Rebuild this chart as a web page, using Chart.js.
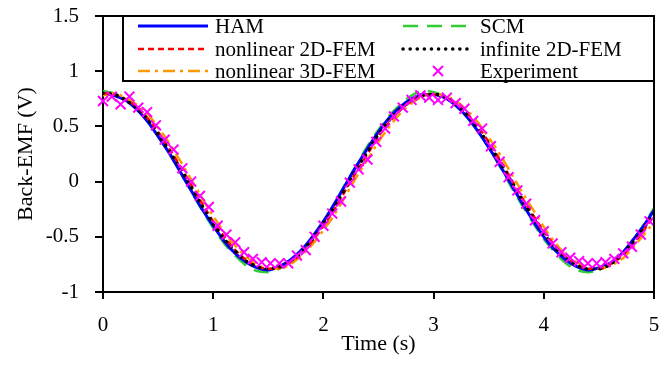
<!DOCTYPE html>
<html>
<head>
<meta charset="utf-8">
<script src="https://cdn.jsdelivr.net/npm/chart.js@4/dist/chart.umd.min.js"></script>
<style>
  html, body { margin: 0; padding: 0; background: #fff; }
  #chart { display: block; }
</style>
</head>
<body>
<canvas id="chart" width="672" height="367"></canvas>
<script>
// ==========================================
// 1. DATA
// ==========================================
const times = [0, 0.1, 0.2, 0.3, 0.4, 0.5, 0.6, 0.7, 0.8, 0.9, 1, 1.1, 1.2, 1.3, 1.4, 1.5, 1.6, 1.7, 1.8, 1.9,
    2, 2.1, 2.2, 2.3, 2.4, 2.5, 2.6, 2.7, 2.8, 2.9, 3, 3.1, 3.2, 3.3, 3.4, 3.5, 3.6, 3.7, 3.8, 3.9,
    4, 4.1, 4.2, 4.3, 4.4, 4.5, 4.6, 4.7, 4.8, 4.9, 5];

const hamValues = [0.80, 0.78, 0.74, 0.66, 0.55, 0.41, 0.26, 0.09, -0.08, -0.25, -0.40, -0.54, -0.65, -0.73, -0.78, -0.80, -0.77, -0.71, -0.62, -0.50,
    -0.36, -0.20, -0.03, 0.14, 0.30, 0.45, 0.58, 0.68, 0.75, 0.79, 0.79, 0.76, 0.69, 0.59, 0.46, 0.31, 0.15, -0.02, -0.19, -0.35,
    -0.50, -0.62, -0.71, -0.77, -0.80, -0.78, -0.74, -0.66, -0.54, -0.41, -0.26];

const scmValues = [0.82, 0.80, 0.75, 0.67, 0.56, 0.42, 0.26, 0.09, -0.09, -0.26, -0.42, -0.56, -0.67, -0.76, -0.81, -0.82, -0.79, -0.73, -0.63, -0.51,
    -0.37, -0.20, -0.02, 0.15, 0.32, 0.47, 0.60, 0.70, 0.78, 0.82, 0.81, 0.77, 0.70, 0.59, 0.46, 0.31, 0.14, -0.04, -0.21, -0.37,
    -0.52, -0.64, -0.74, -0.80, -0.82, -0.80, -0.75, -0.66, -0.54, -0.40, -0.24];

const fem2dValues = [0.80, 0.79, 0.75, 0.68, 0.58, 0.45, 0.30, 0.14, -0.03, -0.20, -0.36, -0.50, -0.62, -0.71, -0.77, -0.79, -0.78, -0.73, -0.65, -0.54,
    -0.40, -0.25, -0.08, 0.09, 0.25, 0.41, 0.54, 0.65, 0.73, 0.78, 0.79, 0.77, 0.71, 0.62, 0.50, 0.36, 0.20, 0.03, -0.14, -0.30,
    -0.45, -0.58, -0.68, -0.75, -0.79, -0.79, -0.75, -0.68, -0.58, -0.45, -0.31];

const infValues = [0.80, 0.79, 0.74, 0.67, 0.57, 0.43, 0.28, 0.12, -0.05, -0.22, -0.38, -0.52, -0.63, -0.72, -0.77, -0.79, -0.77, -0.72, -0.64, -0.52,
    -0.38, -0.23, -0.06, 0.11, 0.27, 0.43, 0.56, 0.66, 0.74, 0.78, 0.79, 0.77, 0.70, 0.61, 0.48, 0.34, 0.18, 0.01, -0.16, -0.32,
    -0.47, -0.60, -0.69, -0.76, -0.79, -0.79, -0.75, -0.67, -0.56, -0.43, -0.29];

const fem3dValues = [0.78, 0.80, 0.76, 0.70, 0.62, 0.49, 0.35, 0.19, 0.02, -0.15, -0.31, -0.46, -0.58, -0.68, -0.75, -0.79, -0.79, -0.75, -0.67, -0.57,
    -0.44, -0.30, -0.13, 0.04, 0.20, 0.36, 0.50, 0.62, 0.71, 0.77, 0.79, 0.78, 0.73, 0.65, 0.54, 0.40, 0.25, 0.08, -0.09, -0.25,
    -0.41, -0.55, -0.66, -0.73, -0.78, -0.79, -0.76, -0.71, -0.61, -0.49, -0.37];

const expTimes = [0, 0.08, 0.16, 0.24, 0.32, 0.4, 0.48, 0.56, 0.64, 0.72, 0.8, 0.88, 0.96, 1.04, 1.12, 1.2, 1.28, 1.36, 1.44, 1.52,
    1.6, 1.68, 1.76, 1.84, 1.92, 2, 2.08, 2.16, 2.24, 2.32, 2.4, 2.48, 2.56, 2.64, 2.72, 2.8, 2.88, 2.96, 3.04, 3.12,
    3.2, 3.28, 3.36, 3.44, 3.52, 3.6, 3.68, 3.76, 3.84, 3.92, 4, 4.08, 4.16, 4.24, 4.32, 4.4, 4.48, 4.56, 4.64, 4.72,
    4.8, 4.88, 4.96];

const expValues = [0.73, 0.77, 0.70, 0.77, 0.67, 0.63, 0.51, 0.38, 0.29, 0.12, 0.00, -0.13, -0.23, -0.40, -0.48, -0.55, -0.64, -0.70, -0.73, -0.74,
    -0.74, -0.74, -0.67, -0.62, -0.50, -0.40, -0.29, -0.18, -0.01, 0.11, 0.20, 0.36, 0.48, 0.59, 0.67, 0.74, 0.78, 0.76, 0.74, 0.76,
    0.71, 0.66, 0.55, 0.48, 0.32, 0.18, 0.04, -0.08, -0.20, -0.35, -0.45, -0.56, -0.64, -0.69, -0.72, -0.74, -0.74, -0.73, -0.70, -0.65,
    -0.59, -0.48, -0.36];

const xTicks = [0, 1, 2, 3, 4, 5];
const yTicks = [-1, -0.5, 0, 0.5, 1, 1.5];

const FONT = '"Liberation Serif", "Times New Roman", serif';

// helper: pair up x / y arrays into {x, y} points
const toPoints = (xs, ys) => xs.map((x, i) => ({ x: x, y: ys[i] }));

// ==========================================
// 2. PLUGINS (white bg, frame, boxed legend)
// ==========================================
const whiteBg = {
    id: 'whiteBg',
    beforeDraw(chart) {
        const c = chart.ctx;
        c.save();
        c.fillStyle = '#fff';
        c.fillRect(0, 0, chart.width, chart.height);
        c.restore();
    }
};

const frame = {
    id: 'frame',
    afterDraw(chart) {
        const a = chart.chartArea;
        const c = chart.ctx;
        c.save();
        c.strokeStyle = '#000';
        c.lineWidth = 2;
        c.beginPath();
        c.moveTo(a.left - 1, a.top);
        c.lineTo(a.right, a.top);
        c.lineTo(a.right, a.bottom + 1);
        c.stroke();
        c.restore();
    }
};

// legend laid out like the reference: 2 columns x 3 rows inside a box
const legendLayout = [
    { idx: 0, col: 0, row: 0 }, { idx: 1, col: 1, row: 0 },
    { idx: 2, col: 0, row: 1 }, { idx: 3, col: 1, row: 1 },
    { idx: 4, col: 0, row: 2 }, { idx: 5, col: 1, row: 2 }
];
const boxedLegend = {
    id: 'boxedLegend',
    afterDraw(chart) {
        const a = chart.chartArea;
        const c = chart.ctx;
        const boxL = 123, boxB = 81;
        c.save();
        c.fillStyle = '#fff';
        c.fillRect(boxL, a.top, a.right - boxL, boxB - a.top);
        c.strokeStyle = '#000';
        c.lineWidth = 2;
        c.strokeRect(boxL, a.top, a.right - boxL, boxB - a.top);

        const colX = [138, 403];
        const rowY = [26, 49, 71];
        c.font = '21px ' + FONT;
        c.textBaseline = 'middle';
        c.textAlign = 'left';
        legendLayout.forEach(item => {
            const ds = chart.data.datasets[item.idx];
            const x0 = colX[item.col], y = rowY[item.row];
            c.save();
            if (ds.showLine === false) {
                // cross marker
                const cx = x0 + 35, r = 5;
                c.strokeStyle = ds.pointBorderColor;
                c.lineWidth = 2;
                c.beginPath();
                c.moveTo(cx - r, y - r); c.lineTo(cx + r, y + r);
                c.moveTo(cx + r, y - r); c.lineTo(cx - r, y + r);
                c.stroke();
            } else {
                c.strokeStyle = ds.borderColor;
                c.lineWidth = ds.borderWidth;
                c.lineCap = ds.borderCapStyle || 'butt';
                c.setLineDash(ds.borderDash || []);
                c.beginPath();
                c.moveTo(x0, y);
                c.lineTo(x0 + 70, y);
                c.stroke();
            }
            c.restore();
            c.fillStyle = '#000';
            c.fillText(ds.label, x0 + 77, y + 1);
        });
        c.restore();
    }
};

// ==========================================
// 3. CHART.JS INIT
// ==========================================
const lineSet = (label, xs, ys, color, width, dash, order, cap) => ({
    label: label,
    data: toPoints(xs, ys),
    borderColor: color,
    borderWidth: width,
    borderDash: dash,
    borderCapStyle: cap || 'butt',
    pointRadius: 0,
    fill: false,
    cubicInterpolationMode: 'monotone',
    order: order
});

const ctx = document.getElementById('chart').getContext('2d');
new Chart(ctx, {
    type: 'line',
    data: {
        datasets: [
            lineSet('HAM', times, hamValues, '#0000ff', 3, [], 4),
            lineSet('SCM', times, scmValues, '#33cc33', 2.5, [15, 9], 5),
            lineSet('nonlinear 2D-FEM', times, fem2dValues, '#ff0000', 2.5, [6, 4], 2),
            lineSet('infinite 2D-FEM', times, infValues, '#000000', 3.5, [0.1, 7], 1, 'round'),
            lineSet('nonlinear 3D-FEM', times, fem3dValues, '#ff9900', 2.5, [12, 5, 3, 5], 3),
            {
                label: 'Experiment',
                data: toPoints(expTimes, expValues),
                showLine: false,
                pointStyle: 'crossRot',
                pointRadius: 7,
                pointBorderWidth: 2,
                pointBorderColor: '#ff00ff',
                pointBackgroundColor: '#ff00ff',
                borderColor: '#ff00ff',
                clip: false,
                order: 0
            }
        ]
    },
    options: {
        responsive: false,
        animation: false,
        devicePixelRatio: 1,
        layout: { padding: { top: 16, right: 18, left: 0, bottom: 0 } },
        plugins: {
            legend: { display: false },
            tooltip: { enabled: false }
        },
        scales: {
            x: {
                type: 'linear',
                min: 0, max: 5,
                afterBuildTicks: s => { s.ticks = xTicks.map(v => ({ value: v })); },
                afterFit: s => { s.height = 75; s.paddingLeft = 0; s.paddingRight = 0; },
                grid: { drawOnChartArea: false, drawTicks: true, tickLength: 7, color: '#000', lineWidth: 2 },
                border: { display: true, color: '#000', width: 2 },
                ticks: { color: '#000', font: { family: FONT, size: 21 }, padding: 14, maxRotation: 0,
                         callback: v => String(v) },
                title: { display: true, text: 'Time (s)', color: '#000',
                         font: { family: FONT, size: 22 }, padding: { top: 0, bottom: 10 } }
            },
            y: {
                type: 'linear',
                min: -1, max: 1.5,
                afterBuildTicks: s => { s.ticks = yTicks.map(v => ({ value: v })); },
                afterFit: s => { s.width = 103; s.paddingTop = 0; s.paddingBottom = 0; },
                grid: { drawOnChartArea: false, drawTicks: true, tickLength: 8, color: '#000', lineWidth: 2 },
                border: { display: true, color: '#000', width: 2 },
                ticks: { color: '#000', font: { family: FONT, size: 21 }, padding: 16,
                         callback: v => String(v) },
                title: { display: true, text: 'Back-EMF (V)', color: '#000',
                         font: { family: FONT, size: 22 }, padding: { top: 13, bottom: 0 } }
            }
        }
    },
    plugins: [whiteBg, frame, boxedLegend]
});
</script>
</body>
</html>
